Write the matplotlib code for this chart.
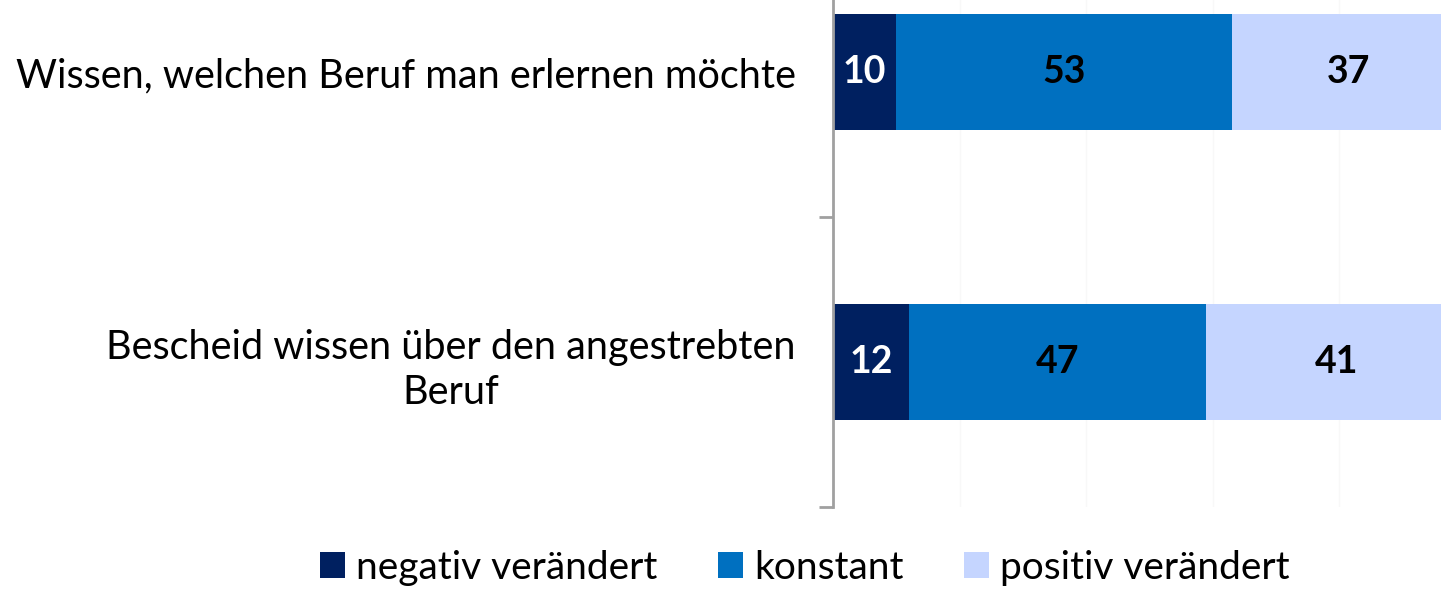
import matplotlib
matplotlib.use("Agg")
import matplotlib.pyplot as plt
import numpy as np

categories = ["Wissen, welchen Beruf man erlernen möchte",
              "Bescheid wissen über den angestrebten\nBeruf"]
series_names = ["negativ verändert", "konstant", "positiv verändert"]
negativ = [10, 12]
konstant = [53, 47]
positiv = [37, 41]
colors = ["#002060", "#0070C0", "#C5D5FF"]
label_colors = ["white", "black", "black"]

plt.rcParams['font.family'] = ['Lato', 'DejaVu Sans']

W, H = 1441, 589
fig = plt.figure(figsize=(W / 100, H / 100), dpi=100)
# axes: x 0 -> 833px, 100 -> 1466px; y: -0.5 -> -73px, 1.5 -> 507px
x0, x1 = 833, 1466
ytop, ybot = -73, 507
ax = fig.add_axes([x0 / W, 1 - ybot / H, (x1 - x0) / W, (ybot - ytop) / H])

y = np.arange(len(categories))
left = np.zeros(len(categories))
for vals, col, lc, name in zip([negativ, konstant, positiv], colors, label_colors, series_names):
    bars = ax.barh(y, vals, left=left, height=0.40, color=col, label=name, zorder=2)
    ax.bar_label(bars, labels=[str(v) for v in vals], label_type='center',
                 color=lc, fontsize=27, fontweight='bold')
    left = left + np.array(vals)

ax.set_xlim(0, 100)
ax.set_ylim(1.5, -0.5)
ax.set_xticks([20, 40, 60, 80])
ax.xaxis.grid(True, color="#f8f8f8", linewidth=1, zorder=0)
ax.tick_params(axis='x', length=0, labelbottom=False)

ax.set_yticks(y)
ax.set_yticklabels(categories, fontsize=28.5, multialignment='center', linespacing=1.3)
ax.tick_params(axis='y', which='major', length=0, pad=27)
ax.set_yticks([0.5, 1.5], minor=True)
ax.tick_params(axis='y', which='minor', length=10, width=2, color="#a0a0a0", direction='out')

for s in ['top', 'right', 'bottom']:
    ax.spines[s].set_visible(False)
ax.spines['left'].set_color("#a0a0a0")
ax.spines['left'].set_linewidth(2)

fig.legend(loc='center', bbox_to_anchor=(805 / W, 1 - 568 / H), ncol=3, frameon=False,
           fontsize=28, handlelength=0.65, handleheight=0.65, columnspacing=1.55, handletextpad=0.28)

fig.savefig("out.png", dpi=100)
